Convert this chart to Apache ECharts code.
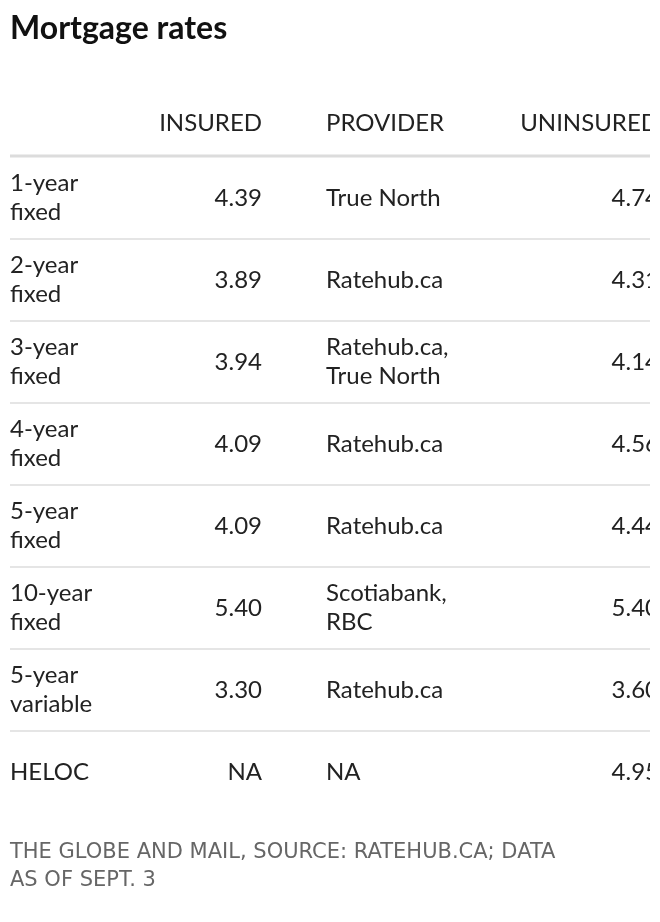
<!DOCTYPE html>
<html><head><meta charset="utf-8">
<script src="https://cdn.jsdelivr.net/npm/echarts@6/dist/echarts.min.js"></script>
<style>html,body{margin:0;padding:0;background:#fff}#c{width:660px;height:922px}</style>
</head><body><div id="c"></div>
<script>
const terms = ["1-year\nfixed","2-year\nfixed","3-year\nfixed","4-year\nfixed","5-year\nfixed","10-year\nfixed","5-year\nvariable","HELOC"];
const insured = ["4.39","3.89","3.94","4.09","4.09","5.40","3.30","NA"];
const providers = ["True North","Ratehub.ca","Ratehub.ca,\nTrue North","Ratehub.ca","Ratehub.ca","Scotiabank,\nRBC","Ratehub.ca","NA"];
const uninsured = ["4.74","4.31","4.14","4.56","4.44","5.40","3.60","4.95"];
const headers = ["INSURED","PROVIDER","UNINSURED"];

const F = 'Lato, "Open Sans", sans-serif';
const C = '#222';
const chart = echarts.init(document.getElementById('c'));
const txt = (x, y, s, align) => ({type:'text', x, y, style:{text:s, fill:C, font:'24px '+F, align, verticalAlign:'middle', lineHeight:29}});
chart.setOption({
  animation:false,
  grid:{left:0,right:0,top:157,height:656},
  xAxis:{type:'value',min:0,max:1,show:false},
  yAxis:{type:'category',data:terms,inverse:true,show:false},
  series:[{
    type:'custom',
    clip:false,
    data:terms.map((t,i)=>[0,i]),
    renderItem:(params, api)=>{
      const i = api.value(1);
      const c = api.coord([0,i]);
      const h = api.size([0,1])[1];
      const y = c[1];
      const kids = [
        txt(10,y,terms[i],'left'),
        txt(262,y,insured[i],'right'),
        txt(326,y,providers[i],'left'),
        txt(659,y,uninsured[i],'right')
      ];
      if (i < terms.length-1) kids.push({type:'line',shape:{x1:10,y1:y+h/2,x2:650,y2:y+h/2},style:{stroke:'#dcdcdc',lineWidth:1.5}});
      return {type:'group',children:kids};
    }
  }],
  graphic:[
    {type:'text',left:10,top:13,style:{text:'Mortgage rates',font:'bold 32px '+F,fill:'#111'}},
    {type:'text',x:262,y:123,style:{text:headers[0],font:'24px '+F,fill:C,align:'right',verticalAlign:'middle'}},
    {type:'text',x:326,y:123,style:{text:headers[1],font:'24px '+F,fill:C,align:'left',verticalAlign:'middle'}},
    {type:'text',x:659,y:123,style:{text:headers[2],font:'24px '+F,fill:C,align:'right',verticalAlign:'middle'}},
    {type:'line',shape:{x1:10,y1:156,x2:650,y2:156},style:{stroke:'#dcdcdc',lineWidth:3}},
    {type:'rect',shape:{x:650,y:90,width:20,height:720},style:{fill:'#fff'},z:100},
    {type:'text',x:10,y:867,style:{text:'THE GLOBE AND MAIL, SOURCE: RATEHUB.CA; DATA\nAS OF SEPT. 3',font:'21px "DejaVu Sans", sans-serif',fill:'#666',verticalAlign:'middle',lineHeight:28}}
  ]
});
</script></body></html>
